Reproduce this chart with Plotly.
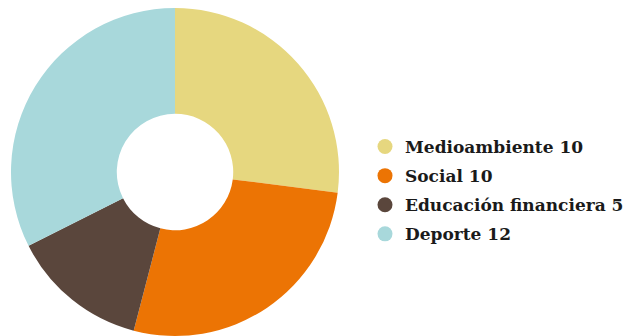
import plotly.graph_objects as go

labels = ["Medioambiente", "Social", "Educación financiera", "Deporte"]
values = [10, 10, 5, 12]
colors = ["#e6d77f", "#ec7404", "#5a463c", "#a8d8db"]

W, H = 632, 336
off = 8  # page body margin
cx, cy, r = 175 - off, 172 - off, 164

fig = go.Figure()
fig.add_trace(go.Pie(
    labels=labels, values=values, hole=0.355, sort=False, direction="clockwise",
    rotation=0, textinfo="none", hoverinfo="label+value",
    marker=dict(colors=colors, line=dict(width=0)),
    showlegend=False,
    domain=dict(x=[(cx - r) / W, (cx + r) / W], y=[max(0, (H - cy - r) / H), min(1, (H - cy + r) / H)]),
))
for i, (lab, val, col) in enumerate(zip(labels, values, colors)):
    fig.add_trace(go.Scatter(
        x=[None], y=[None], mode="markers", name=f"<b>{lab} {val}</b>",
        legendgroup=f"g{i}",
        marker=dict(color=col, size=15, symbol="circle"), showlegend=True,
    ))

fig.update_layout(
    width=W, height=H, margin=dict(l=0, r=0, t=0, b=0),
    paper_bgcolor="white", plot_bgcolor="white",
    xaxis=dict(visible=False), yaxis=dict(visible=False),
    legend=dict(x=(405 - 40 - off) / W, y=1 - (190.5 - off) / H, xanchor="left", yanchor="middle",
                font=dict(family="DejaVu Serif", size=17, color="#1a1a1a"),
                itemwidth=30, tracegroupgap=4, bgcolor="rgba(0,0,0,0)"),
)
fig.write_html("out.html")
